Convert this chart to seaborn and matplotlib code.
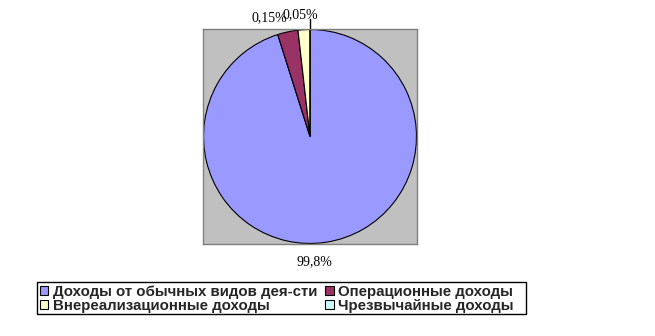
import numpy as np
import matplotlib
matplotlib.use("Agg")
import matplotlib.pyplot as plt
import matplotlib.transforms as mtrans
from matplotlib.patches import Rectangle
import seaborn as sns

# Data (slice sizes as drawn, and the printed labels)
categories = ["Доходы от обычных видов дея-сти", "Операционные доходы",
              "Внереализационные доходы", "Чрезвычайные доходы"]
values = [95.1, 3.1, 1.8, 0.0]
pct_labels = ["99,8%", "0,15%", "", "0,05%"]

sns.set_theme(style="white")
plt.rcParams["font.family"] = ["Liberation Sans", "DejaVu Sans"]

colors = sns.color_palette(["#9999FF", "#993366", "#FFFFCC", "#CCFFFF"])

W, H = 655, 336
fig = plt.figure(figsize=(6.55, 3.36), dpi=100)
fig.patch.set_facecolor("white")
ax = fig.add_axes([203 / W, 1 - 244 / H, 214 / W, 215 / H])

wedges, texts = ax.pie(values, colors=colors, startangle=90, counterclock=False,
                       labels=pct_labels, labeldistance=1.17, radius=0.995,
                       wedgeprops=dict(edgecolor="black", linewidth=0.8),
                       textprops=dict(family="Liberation Serif", fontsize=10,
                                      color="black"))
ax.set_frame_on(True)
ax.set_facecolor("#C0C0C0")
for s in ax.spines.values():
    s.set_visible(True)
    s.set_color("#808080")
    s.set_linewidth(1.0)
ax.set_xlim(-1, 1)
ax.set_ylim(-1, 1)
ax.set_aspect("auto")
ax.set_xticks([])
ax.set_yticks([])

# label pixel nudges (style only)
nudges = [(-15, -2), (-15, -4), (0, 0), (-10, -3)]
for t, (dx, dy) in zip(texts, nudges):
    t.set_ha("center")
    t.set_va("center")
    t.set_clip_on(False)
    t.set_transform(mtrans.offset_copy(t.get_transform(), fig=fig, x=dx, y=dy, units="dots"))

# leader line for the zero slice
w = wedges[3]
ang = np.deg2rad(w.theta1)
ax.plot([np.cos(ang) * 0.995, np.cos(ang) * 1.09], [np.sin(ang) * 0.995, np.sin(ang) * 1.09],
        color="black", lw=1.0, clip_on=False)

order = [0, 2, 1, 3]
leg = fig.legend([wedges[i] for i in order], [categories[i] for i in order], ncol=2,
                 loc="upper left", bbox_to_anchor=(37 / W, 1 - 282 / H),
                 frameon=False,
                 prop=dict(family="Liberation Sans", size=10.8, weight="bold"),
                 handlelength=0.55, handleheight=0.55, handletextpad=0.3,
                 columnspacing=0.55, labelspacing=0.0, borderpad=0.2,
                 borderaxespad=0)
for h in leg.legend_handles:
    h.set_edgecolor("black")
    h.set_linewidth(0.8)

# legend border box
fig.patches.append(Rectangle((37 / W, 1 - 314 / H), (526 - 37) / W, 32 / H,
                             transform=fig.transFigure, fill=False,
                             edgecolor="black", linewidth=1.0))

fig.savefig("out.png", dpi=100, facecolor="white")
